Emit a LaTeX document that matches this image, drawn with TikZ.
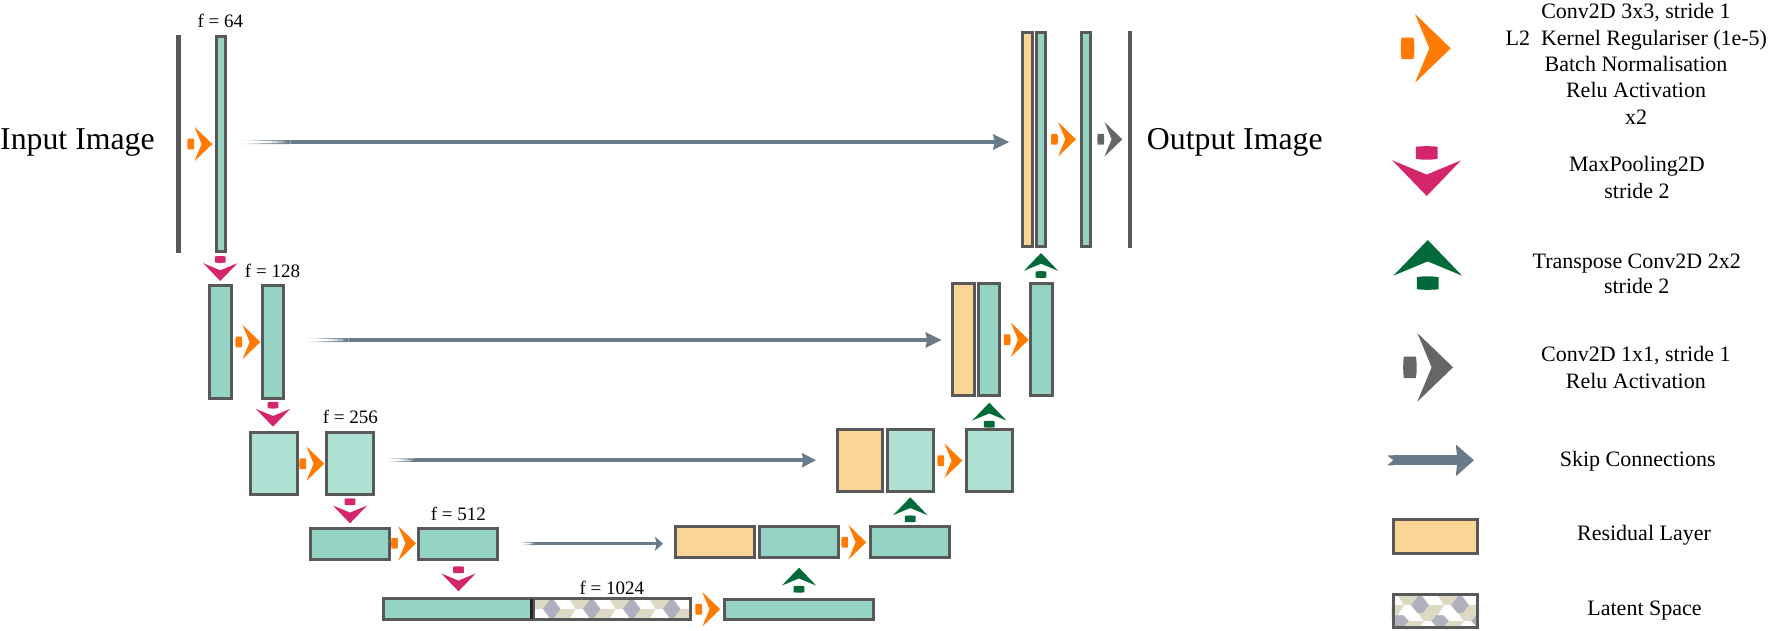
\documentclass[tikz,border=0pt]{standalone}
\usepackage{fontspec}
\setmainfont{Liberation Serif}
\usetikzlibrary{calc,arrows.meta}
\definecolor{tealc}{HTML}{95D4C5}
\definecolor{ltealc}{HTML}{AEE0D3}
\definecolor{resc}{HTML}{FAD595}
\definecolor{strokec}{HTML}{595959}
\definecolor{orangec}{HTML}{FF7A00}
\definecolor{pinkc}{HTML}{D4266B}
\definecolor{greenc}{HTML}{006A38}
\definecolor{grayc}{HTML}{666666}
\definecolor{skipc}{HTML}{697A88}
\definecolor{beigec}{HTML}{DDD9C3}
\definecolor{lavc}{HTML}{B0B0BF}
\tikzset{
  boxbase/.style={rectangle,draw=strokec,line width=3pt,inner sep=0pt,outer sep=0pt},
  enc/.style={boxbase,fill=tealc},
  lenc/.style={boxbase,fill=ltealc},
  resid/.style={boxbase,fill=resc},
  hollow/.style={boxbase},
  imgline/.style={rectangle,fill=strokec,inner sep=0pt,outer sep=0pt},
  flabel/.style={font=\fontsize{19}{19}\selectfont,anchor=base,inner sep=0pt},
  biglabel/.style={font=\fontsize{31.8}{31.8}\selectfont,anchor=base west,inner sep=0pt},
  legend/.style={font=\fontsize{22}{26.7}\selectfont,anchor=base,inner sep=0pt}
}
% name, x0, y0, x1, y1 (outer edges), style
\newcommand\layerbox[6]{%
  \pgfmathsetmacro\lw{#4-#2-3}\pgfmathsetmacro\lh{#5-#3-3}%
  \pgfmathsetmacro\lx{(#2+#4)/2}\pgfmathsetmacro\ly{(#3+#5)/2}%
  \node[#6,minimum width=\lw pt,minimum height=\lh pt] (#1) at (\lx,\ly) {};}
\newcommand\imgbar[5]{%
  \pgfmathsetmacro\lw{#4-#2}\pgfmathsetmacro\lh{#5-#3}%
  \pgfmathsetmacro\lx{(#2+#4)/2}\pgfmathsetmacro\ly{(#3+#5)/2}%
  \node[imgline,minimum width=\lw pt,minimum height=\lh pt] (#1) at (\lx,\ly) {};}
% tip x, tip y, scale, colour, rotation
\newcommand\glyph[5]{%
  \begin{scope}[shift={(#1,#2)},rotate=#5,scale=#3]
    \fill[#4] (0,0) -- (-17.85,-17.2) -- (-10.7,0) -- (-17.85,17.2) -- cycle;
    \fill[#4] (-24.6,-5.4) -- (-18.6,-5.4) .. controls (-18,-2.5) and (-18,2.5) .. (-18.6,5.4)
      -- (-24.6,5.4) .. controls (-25,2.5) and (-25,-2.5) .. (-24.6,-5.4) -- cycle;
  \end{scope}}
% from, to, merge length, thickness, head length, head width, tail tint
\newcommand\skiparrow[7]{%
  \shade[left color=skipc!#7,right color=skipc] ($(#1)+(0,-#4*0.5)$) -- ($(#1)+(#3,-#4*0.5)$) -- ($(#1)+(#3,#4*0.5)$)
     -- ($(#1)+(0,#4*0.5)$) -- ($(#1)+(#3,0)$) -- cycle;
  \draw[skipc,line width=#4 pt,-{Stealth[length=#5pt,width=#6pt,inset=1.5pt]}] ($(#1)+(#3-0.2,0)$) -- (#2);}
% x of first diamond, centre y, half height, count
\newcommand\tumble[4]{%
  \foreach \i in {0,...,#4}{%
    \begin{scope}[shift={(#1+40*\i-40,#2)},yscale=#3/10]
      \fill[white]  (1.5,-10) -- (18,-10) -- (24,0) -- (9,0) -- cycle;
      \fill[beigec] (18,-10) -- (38.5,-10) -- (31,0) -- (24,0) -- cycle;
      \fill[beigec] (1.5,10) -- (18,10) -- (24,0) -- (9,0) -- cycle;
      \fill[white]  (18,10) -- (38.5,10) -- (31,0) -- (24,0) -- cycle;
    \end{scope}}}
\begin{document}
\begin{tikzpicture}[x=1pt,y=-1pt]
\useasboundingbox (0,0) rectangle (1768,630);
% encoder
\imgbar{inimg}{176.2}{35}{180.8}{253}
\layerbox{e1}{214.5}{35}{226.5}{252.7}{enc}
\layerbox{e2a}{208.3}{284.3}{233}{399.7}{enc}
\layerbox{e2b}{260.7}{284.3}{285.3}{399.7}{enc}
\layerbox{e3a}{249}{431.3}{298.7}{495.7}{lenc}
\layerbox{e3b}{325}{431.3}{374.7}{495.7}{lenc}
\layerbox{e4a}{308.7}{526.7}{390.7}{560.7}{enc}
\layerbox{e4b}{417.3}{526.7}{499.3}{560.7}{enc}
% bottleneck
\fill[lavc] (532,597.3) rectangle (692.3,620.7);
\begin{scope}
  \clip (532,597.3) rectangle (692.3,620.7);
  \tumble{551.7}{609}{10}{4}
\end{scope}
\layerbox{lat}{532}{597.3}{692.3}{620.7}{hollow}
\layerbox{bn}{382.4}{597.3}{533.4}{620.7}{enc}
\draw[black!85,line width=3pt] (bn.north east) -- (bn.south east);
% decoder
\layerbox{d5}{723.3}{597.7}{875}{620.7}{enc}
\layerbox{r4}{674.3}{525.3}{756.3}{558.7}{resid}
\layerbox{d4a}{758}{525.3}{839.7}{558.7}{enc}
\layerbox{d4b}{869.3}{525.3}{951.3}{558.7}{enc}
\layerbox{r3}{835.7}{428.3}{884.3}{492.7}{resid}
\layerbox{d3a}{886}{428.3}{935}{492.7}{lenc}
\layerbox{d3b}{964.7}{428.3}{1013.7}{492.7}{lenc}
\layerbox{r2}{951.3}{282.3}{976.3}{397.3}{resid}
\layerbox{d2a}{976.9}{282.3}{1001}{397.3}{enc}
\layerbox{d2b}{1028.7}{282.3}{1053.7}{397.3}{enc}
\layerbox{r1}{1021.3}{30.7}{1034}{248.3}{resid}
\layerbox{d1a}{1034.7}{30.7}{1047.3}{248.3}{enc}
\layerbox{d1b}{1080}{30.7}{1092.3}{248.3}{enc}
\imgbar{outimg}{1127.5}{31}{1132}{248}
% skip connections
\coordinate (s1a) at (240.7,142); \coordinate (s1b) at (1009.3,142);
\coordinate (s2a) at (306.7,340); \coordinate (s2b) at (941.7,340);
\coordinate (s3a) at (386,460.2); \coordinate (s3b) at (816,460.2);
\coordinate (s4a) at (519.3,543.7); \coordinate (s4b) at (663,543.7);
\skiparrow{s1a}{s1b}{50}{4}{16}{15}{30}
\skiparrow{s2a}{s2b}{42}{4}{16}{15}{30}
\skiparrow{s3a}{s3b}{29}{3.5}{14}{14}{30}
\skiparrow{s4a}{s4b}{16}{3}{8}{14}{30}
% conv glyphs
\glyph{212.3}{144}{1}{orangec}{0}
\glyph{260.3}{342}{1}{orangec}{0}
\glyph{324.3}{463.7}{1}{orangec}{0}
\glyph{416.1}{543.3}{1}{orangec}{0}
\glyph{720.2}{609.3}{1}{orangec}{0}
\glyph{866.3}{542.3}{1}{orangec}{0}
\glyph{962.3}{460.7}{1}{orangec}{0}
\glyph{1028.7}{339.7}{1}{orangec}{0}
\glyph{1076}{139.3}{1}{orangec}{0}
\glyph{1122.3}{139.3}{1}{grayc}{0}
% pooling glyphs
\glyph{220.3}{281}{1}{pinkc}{-90}
\glyph{273}{426.7}{1}{pinkc}{-90}
\glyph{350}{523.3}{1}{pinkc}{-90}
\glyph{458.5}{591.3}{1}{pinkc}{-90}
% up glyphs
\glyph{799}{567.7}{1}{greenc}{90}
\glyph{910.3}{497.3}{1}{greenc}{90}
\glyph{989.3}{402.7}{1}{greenc}{90}
\glyph{1041}{253}{1}{greenc}{90}
% labels
\node[biglabel] (inlab) at (0,149) {Input Image};
\node[biglabel] (outlab) at (1146.7,149) {Output Image};
\node[flabel] (f64) at (220.3,27.5) {f = 64};
\node[flabel] (f128) at (272.5,277) {f = 128};
\node[flabel] (f256) at (350.3,423.3) {f = 256};
\node[flabel] (f512) at (458.3,520.7) {f = 512};
\node[flabel] (f1024) at (611.8,594) {f = 1024};
% legend
\glyph{1450.7}{48.3}{2}{orangec}{0}
\glyph{1426.7}{196}{2}{pinkc}{-90}
\glyph{1427.7}{240}{2}{greenc}{90}
\glyph{1453}{367.3}{2}{grayc}{0}
\coordinate (ls1) at (1387.3,460.3); \coordinate (ls2) at (1474,460.3);
\skiparrow{ls1}{ls2}{6}{10}{18}{31}{100}
\layerbox{lr}{1391.7}{518}{1479}{554.7}{resid}
\fill[lavc] (1391.7,593) rectangle (1479,629);
\begin{scope}
  \clip (1391.7,593) rectangle (1479,629);
  \tumble{1420}{605}{10}{3}
  \tumble{1400}{621}{8}{3}
\end{scope}
\layerbox{ll}{1391.7}{593}{1479}{629}{hollow}
\node[legend] (t1) at (1636,18.3) {Conv2D 3x3, stride 1};
\node[legend] (t2) at (1636.3,45) {L2\ \ Kernel Regulariser (1e-5)};
\node[legend] (t3) at (1636,71.7) {Batch Normalisation};
\node[legend] (t4) at (1636,97.7) {Relu Activation};
\node[legend] (t5) at (1636,124.3) {x2};
\node[legend] (t6) at (1637,171.7) {MaxPooling2D};
\node[legend] (t7) at (1637,198.3) {stride 2};
\node[legend] (t8) at (1636.7,268.3) {Transpose Conv2D 2x2};
\node[legend] (t9) at (1636.7,293.3) {stride 2};
\node[legend] (t10) at (1635.8,361.7) {Conv2D 1x1, stride 1};
\node[legend] (t11) at (1635.8,388.3) {Relu Activation};
\node[legend] (t12) at (1637.7,466.7) {Skip Connections};
\node[legend] (t13) at (1644,540) {Residual Layer};
\node[legend] (t14) at (1644.5,615) {Latent Space};
\end{tikzpicture}
\end{document}
